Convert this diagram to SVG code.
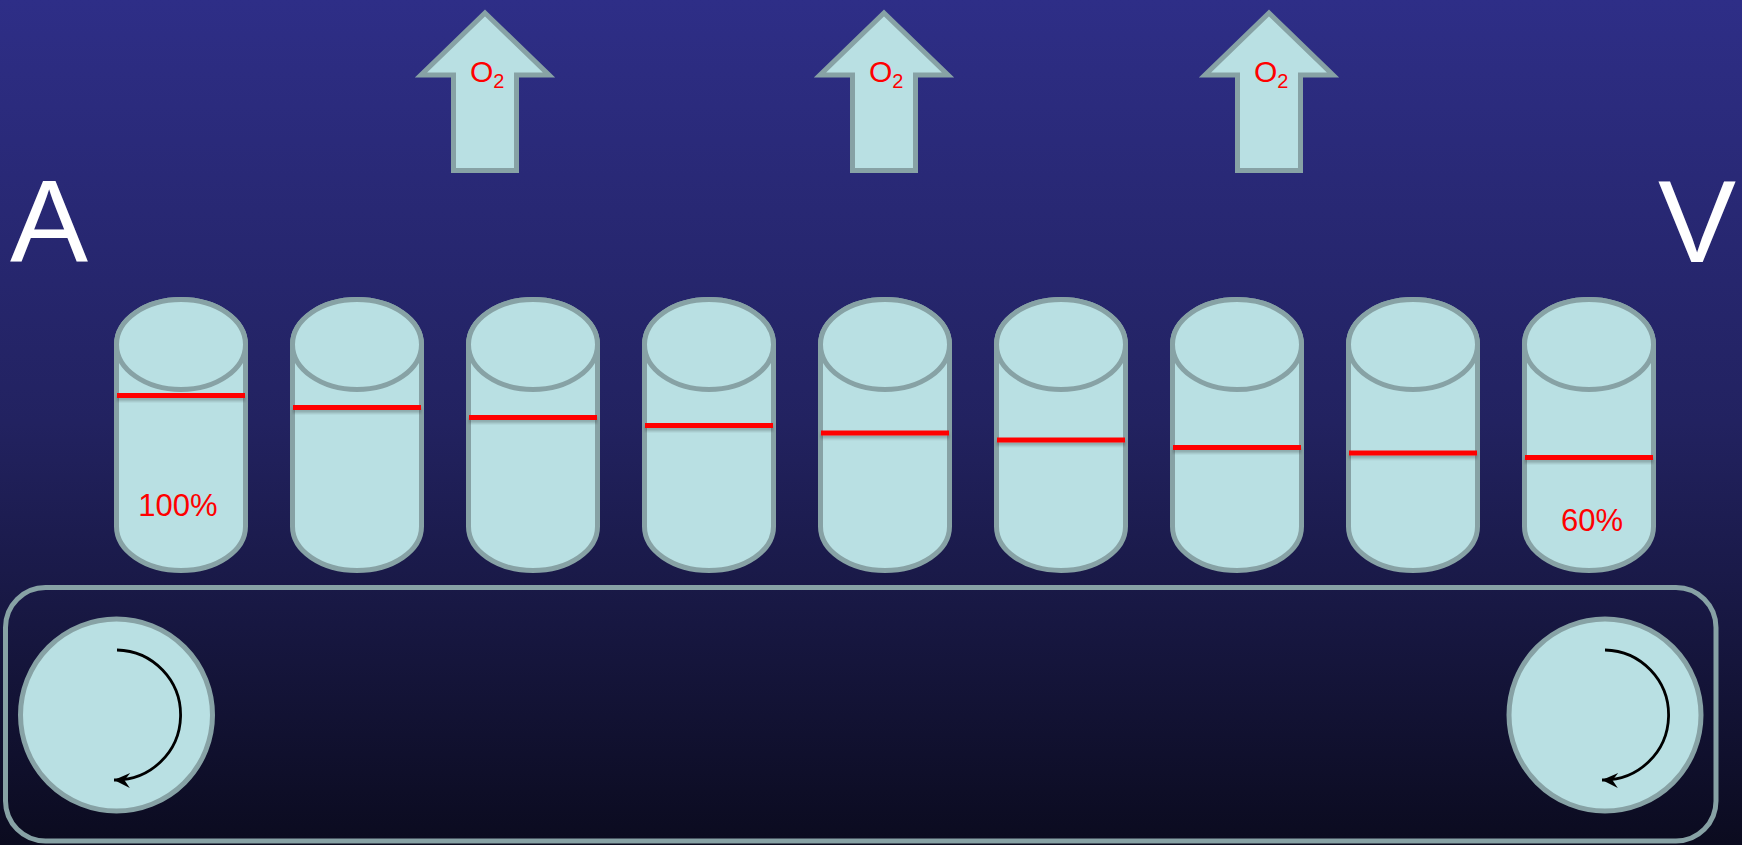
<svg xmlns="http://www.w3.org/2000/svg" width="1742" height="845" viewBox="0 0 1742 845">
  <defs>
    <linearGradient id="bg" x1="0" y1="0" x2="0" y2="1">
      <stop offset="0" stop-color="#2e2e87"/>
      <stop offset="0.5" stop-color="#222260"/>
      <stop offset="1" stop-color="#0b0b1f"/>
    </linearGradient>
    <filter id="shade" x="-5%" y="-100%" width="110%" height="300%">
      <feDropShadow dx="0" dy="3" stdDeviation="1.5" flood-color="#000" flood-opacity="0.25"/>
    </filter>
    <marker id="spin" markerUnits="userSpaceOnUse" markerWidth="18" markerHeight="18" viewBox="0 0 18 18" refX="17" refY="9" orient="auto">
      <path d="M17,9 L1,1.5 L6.5,9 L1,16.5 Z" fill="#000"/>
    </marker>
    <!-- cylinder shape, drawn around x=0 -->
    <g id="cyl">
      <path d="M-64.5,344.5 V526.5 A64.5,44 0 0 0 64.5,526.5 V344.5 A64.5,45 0 0 0 -64.5,344.5 Z"/>
      <ellipse cx="0" cy="344.5" rx="64.5" ry="45"/>
    </g>
    <!-- upward arrow, drawn around x=0 -->
    <path id="up" d="M0,13 L64,75 L31.5,75 L31.5,170.5 L-31.5,170.5 L-31.5,75 L-64,75 Z"/>
  </defs>
  <style>
    .shape { fill: #b9e0e3; stroke: #87a2a5; stroke-width: 5; }
    .level { fill: #ff0000; filter: url(#shade); }
    .red { fill: #ff0000; font-family: "Liberation Sans", Arial, sans-serif; }
    .big { fill: #ffffff; font-family: "Liberation Sans", Arial, sans-serif; font-size: 117px; }
    .spin { fill: none; stroke: #000; stroke-width: 2.8; marker-end: url(#spin); }
    .belt { fill: none; stroke: #87a2a5; stroke-width: 5; }
  </style>

  <rect width="1742" height="845" fill="url(#bg)"/>

  <!-- oxygen leaving the vessel -->
  <g id="o2-1">
    <use href="#up" class="shape" x="485"/>
    <text class="red" x="470" y="82" font-size="30">O<tspan font-size="20" dy="6">2</tspan></text>
  </g>
  <g id="o2-2">
    <use href="#up" class="shape" x="884"/>
    <text class="red" x="869" y="82" font-size="30">O<tspan font-size="20" dy="6">2</tspan></text>
  </g>
  <g id="o2-3">
    <use href="#up" class="shape" x="1269"/>
    <text class="red" x="1254" y="82" font-size="30">O<tspan font-size="20" dy="6">2</tspan></text>
  </g>

  <!-- arterial / venous ends -->
  <g id="label-a"><text class="big" x="10" y="262">A</text></g>
  <g id="label-v"><text class="big" x="1658" y="262">V</text></g>

  <!-- red cells with saturation level (bar: x from centre-64, width 128, height 5) -->
  <g id="cell-1">
    <use href="#cyl" class="shape" x="181"/>
    <rect class="level" x="117" y="393" width="128" height="5"/>
    <text class="red" x="178" y="516" font-size="31" text-anchor="middle">100%</text>
  </g>
  <g id="cell-2">
    <use href="#cyl" class="shape" x="357"/>
    <rect class="level" x="293" y="405" width="128" height="5"/>
  </g>
  <g id="cell-3">
    <use href="#cyl" class="shape" x="533"/>
    <rect class="level" x="469" y="415" width="128" height="5"/>
  </g>
  <g id="cell-4">
    <use href="#cyl" class="shape" x="709"/>
    <rect class="level" x="645" y="423" width="128" height="5"/>
  </g>
  <g id="cell-5">
    <use href="#cyl" class="shape" x="885"/>
    <rect class="level" x="821" y="430.5" width="128" height="5"/>
  </g>
  <g id="cell-6">
    <use href="#cyl" class="shape" x="1061"/>
    <rect class="level" x="997" y="437.5" width="128" height="5"/>
  </g>
  <g id="cell-7">
    <use href="#cyl" class="shape" x="1237"/>
    <rect class="level" x="1173" y="445" width="128" height="5"/>
  </g>
  <g id="cell-8">
    <use href="#cyl" class="shape" x="1413"/>
    <rect class="level" x="1349" y="450.5" width="128" height="5"/>
  </g>
  <g id="cell-9">
    <use href="#cyl" class="shape" x="1589"/>
    <rect class="level" x="1525" y="455" width="128" height="5"/>
    <text class="red" x="1592" y="531" font-size="31" text-anchor="middle">60%</text>
  </g>

  <!-- conveyor belt -->
  <g id="belt">
    <rect class="belt" x="5.5" y="587.5" width="1710.5" height="253.5" rx="40" ry="40"/>
  </g>
  <g id="wheel-left">
    <circle class="shape" cx="116.5" cy="715" r="96"/>
    <path class="spin" d="M117,650 A65,65 0 1 1 114,780"/>
  </g>
  <g id="wheel-right">
    <circle class="shape" cx="1605" cy="715" r="96"/>
    <path class="spin" d="M1605,650 A65,65 0 1 1 1602,780"/>
  </g>
</svg>
